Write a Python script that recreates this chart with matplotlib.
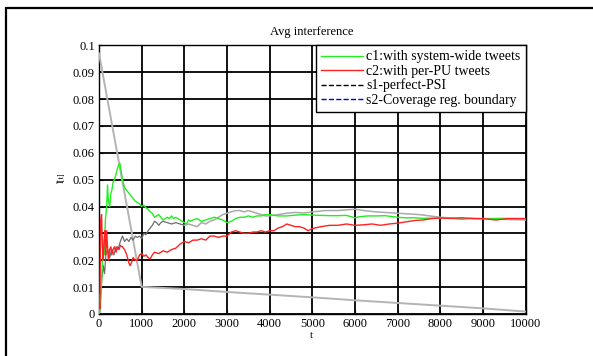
import matplotlib
matplotlib.use("Agg")
import matplotlib.pyplot as plt
from matplotlib.lines import Line2D
from matplotlib.patches import Rectangle

plt.rcParams['font.family'] = ['Liberation Serif', 'DejaVu Serif']

title = "Avg interference"
xlabel = "t"
ylabel = "Ī[t]"
legend_labels = ["c1:with system-wide tweets", "c2:with per-PU tweets",
                 "s1-perfect-PSI", "s2-Coverage reg. boundary"]
xticks = [0, 1000, 2000, 3000, 4000, 5000, 6000, 7000, 8000, 9000, 10000]
yticks = [0, 0.01, 0.02, 0.03, 0.04, 0.05, 0.06, 0.07, 0.08, 0.09, 0.1]
ytick_labels = ["0", "0.01", "0.02", "0.03", "0.04", "0.05", "0.06", "0.07", "0.08", "0.09", "0.1"]

# c1 (green)
c1_t = [0, 30, 60, 80, 100, 120, 150, 180, 200, 220, 250, 280, 300, 330, 360, 400, 430, 460, 490,
        520, 550, 600, 650, 700, 750, 800, 850, 900, 950, 1000, 1050, 1100, 1150, 1200, 1250, 1300,
        1350, 1400, 1450, 1500, 1550, 1600, 1650, 1700, 1750, 1800, 1850, 1900, 1950, 2000, 2050,
        2100, 2150, 2200, 2300, 2400, 2500, 2600, 2700, 2800, 2900, 3000, 3100, 3200, 3300, 3400,
        3500, 3600, 3700, 3800, 3900, 4000, 4200, 4400, 4600, 4800, 5000, 5200, 5400, 5600, 5800,
        6000, 6100, 6300, 6500, 6700, 6900, 7000, 7200, 7400, 7600, 7800, 8000, 8200, 8500, 8700,
        9000, 9500, 10000]
c1_v = [0.0, 0.002, 0.012, 0.020, 0.024, 0.022, 0.035, 0.040, 0.048, 0.042, 0.040, 0.045, 0.046,
        0.049, 0.050, 0.052, 0.054, 0.0555, 0.056, 0.053, 0.050, 0.047, 0.046, 0.045, 0.044, 0.043,
        0.042, 0.0415, 0.041, 0.040, 0.0405, 0.0395, 0.039, 0.038, 0.0375, 0.036, 0.0365, 0.037,
        0.036, 0.035, 0.0355, 0.036, 0.0355, 0.0365, 0.0355, 0.036, 0.0355, 0.035, 0.0345, 0.034,
        0.0335, 0.035, 0.0345, 0.035, 0.0355, 0.0345, 0.035, 0.0355, 0.036, 0.0355, 0.035, 0.034,
        0.0345, 0.0355, 0.036, 0.036, 0.0365, 0.036, 0.0365, 0.0365, 0.037, 0.037, 0.0365, 0.0365,
        0.0368, 0.037, 0.0368, 0.0367, 0.0366, 0.0366, 0.0367, 0.0358, 0.0362, 0.0365, 0.0365,
        0.0366, 0.0362, 0.036, 0.0358, 0.0358, 0.0356, 0.0357, 0.0358, 0.0356, 0.0352, 0.0356,
        0.0355, 0.0356, 0.0355]

# c2 (red)
c2_t = [0, 20, 40, 60, 80, 100, 120, 140, 160, 180, 200, 220, 250, 280, 300, 330, 360, 400, 430,
        470, 500, 550, 600, 650, 700, 730, 770, 800, 850, 900, 950, 1000, 1050, 1100, 1150, 1200,
        1250, 1300, 1400, 1500, 1600, 1700, 1800, 1900, 2000, 2100, 2200, 2300, 2400, 2500, 2600,
        2700, 2800, 2900, 3000, 3100, 3200, 3300, 3400, 3500, 3600, 3700, 3800, 3900, 4000, 4100,
        4200, 4300, 4400, 4500, 4600, 4700, 4800, 4900, 5000, 5200, 5400, 5600, 5800, 6000, 6200,
        6400, 6600, 6800, 7000, 7200, 7400, 7600, 7800, 8000, 8200, 8500, 8800, 9000, 9300, 9600,
        10000]
c2_v = [0.007, 0.002, 0.035, 0.037, 0.025, 0.020, 0.028, 0.031, 0.022, 0.031, 0.025, 0.020, 0.024,
        0.025, 0.022, 0.024, 0.025, 0.023, 0.025, 0.024, 0.0255, 0.025, 0.024, 0.022, 0.019, 0.018,
        0.0195, 0.021, 0.020, 0.020, 0.022, 0.0225, 0.0215, 0.022, 0.021, 0.0205, 0.022, 0.023,
        0.0225, 0.0235, 0.023, 0.024, 0.0245, 0.026, 0.027, 0.0265, 0.0275, 0.0275, 0.028, 0.0275,
        0.029, 0.029, 0.0285, 0.029, 0.029, 0.0305, 0.031, 0.0305, 0.030, 0.030, 0.0305, 0.0305,
        0.031, 0.0305, 0.031, 0.031, 0.032, 0.0325, 0.0335, 0.033, 0.0325, 0.0325, 0.032, 0.031,
        0.0318, 0.0325, 0.033, 0.033, 0.0335, 0.033, 0.0332, 0.0335, 0.033, 0.0335, 0.0338, 0.0343,
        0.0348, 0.035, 0.0355, 0.0357, 0.0356, 0.0358, 0.0355, 0.0355, 0.035, 0.0355, 0.0355]

# s1 (gray, rising)
s1_t = [0, 30, 60, 100, 130, 160, 200, 250, 300, 350, 400, 450, 500, 550, 600, 650, 700, 750, 800,
        850, 900, 950, 1000, 1050, 1100, 1150, 1200, 1250, 1300, 1350, 1400, 1450, 1500, 1600, 1700,
        1800, 1900, 2000, 2100, 2200, 2300, 2400, 2500, 2600, 2700, 2800, 2900, 3000, 3100, 3200,
        3300, 3400, 3500, 3600, 3700, 3800, 3900, 4000, 4200, 4400, 4600, 4800, 5000, 5300, 5600,
        6000, 6200, 6500, 7000, 7500, 8000, 8500, 9000, 9500, 10000]
s1_v = [0.0, 0.004, 0.012, 0.018, 0.015, 0.022, 0.024, 0.021, 0.024, 0.022, 0.025, 0.024, 0.027,
        0.029, 0.027, 0.028, 0.027, 0.0285, 0.0275, 0.029, 0.0285, 0.029, 0.028, 0.030, 0.0295,
        0.031, 0.032, 0.033, 0.0345, 0.034, 0.033, 0.034, 0.0345, 0.034, 0.0335, 0.034, 0.0335,
        0.033, 0.0335, 0.033, 0.0325, 0.034, 0.0335, 0.0345, 0.035, 0.036, 0.037, 0.0375, 0.038,
        0.0385, 0.0385, 0.038, 0.0385, 0.038, 0.0375, 0.037, 0.0365, 0.0365, 0.037, 0.0375, 0.0378,
        0.0376, 0.038, 0.0385, 0.0385, 0.039, 0.0385, 0.038, 0.0375, 0.037, 0.036, 0.0355, 0.0355,
        0.0352, 0.035]

# s2 (light gray, descending)
s2_t = [0, 1000, 2000, 3000, 4000, 5000, 6000, 7000, 8000, 9000, 10000]
s2_v = [0.097, 0.0101, 0.0093, 0.0082, 0.0072, 0.0062, 0.0051, 0.0041, 0.0031, 0.0021, 0.0009]

fig = plt.figure(figsize=(5.93, 3.56), dpi=100)
fig.patches.append(Rectangle((6/593, -0.05), 1.1, 1 - 8/356 + 0.05, transform=fig.transFigure,
                             fill=False, edgecolor='black', linewidth=1.6, zorder=0))
ax = fig.add_axes([99/593, 42/356, 426.7/593, 268.7/356])

ax.plot(s2_t, s2_v, color='#b4b4b4', linewidth=1.4, zorder=3)
ax.plot(s1_t[:38], s1_v[:38], color='#6e6e6e', linewidth=0.9, zorder=3)
ax.plot(s1_t[37:], s1_v[37:], color='#aaaaaa', linewidth=1.1, zorder=3)
ax.plot(c1_t, c1_v, color='#22ee22', linewidth=1.0, zorder=4)
ax.plot(c2_t, c2_v, color='#ff2222', linewidth=1.0, zorder=4)

ax.set_xlim(0, 10000)
ax.set_ylim(0, 0.1)
ax.set_xticks(xticks)
ax.set_xticklabels([str(v) for v in xticks])
ax.set_yticks(yticks)
ax.set_yticklabels(ytick_labels)
ax.tick_params(direction='in', length=3, labelsize=9, pad=3)
ax.grid(True, color='black', linewidth=1.3, zorder=1)
ax.set_axisbelow(True)
for s in ax.spines.values():
    s.set_linewidth(1.0)

fig.text(312/593, 1 - 32/356, title, ha='center', va='center', fontsize=9)
fig.text(311/593, 1 - 336/356, xlabel, ha='center', va='center', fontsize=8)
fig.text(62/593, 1 - 178/356, ylabel, ha='center', va='center', fontsize=6, rotation=90)

handles = [Line2D([], [], color='#22ee22', linewidth=1.0),
           Line2D([], [], color='#ff2222', linewidth=1.0),
           Line2D([], [], color='black', linestyle='--', linewidth=1.0),
           Line2D([], [], color='#0000dd', linestyle='--', linewidth=1.0)]
leg = ax.legend(handles, legend_labels, loc='upper right', bbox_to_anchor=(1, 1),
                borderaxespad=0, fontsize=10, handlelength=3.0, handletextpad=0.25,
                labelspacing=0.08, borderpad=0.37, fancybox=False, framealpha=1,
                edgecolor='black')
leg.get_frame().set_linewidth(1.0)
leg.set_zorder(5)

fig.savefig("out.png", dpi=100)
